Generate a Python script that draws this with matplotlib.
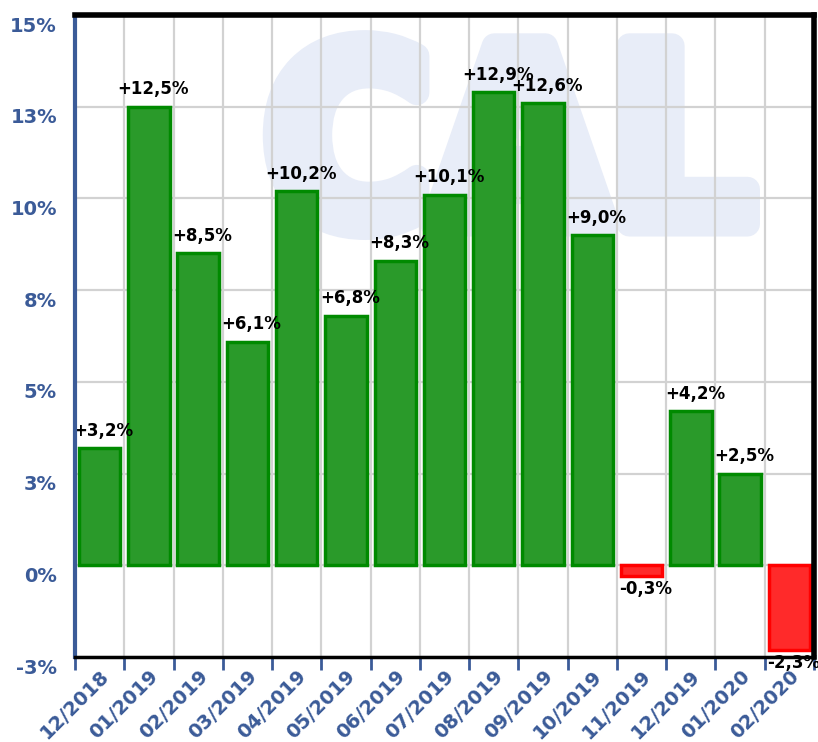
import matplotlib
matplotlib.use("Agg")
import matplotlib.pyplot as plt
import matplotlib.transforms as mtransforms
from matplotlib.textpath import TextPath
from matplotlib.patches import PathPatch
from matplotlib.font_manager import FontProperties

# --- data ---
months = ["12/2018", "01/2019", "02/2019", "03/2019", "04/2019", "05/2019",
          "06/2019", "07/2019", "08/2019", "09/2019", "10/2019", "11/2019",
          "12/2019", "01/2020", "02/2020"]
changes = [3.2, 12.5, 8.5, 6.1, 10.2, 6.8, 8.3, 10.1, 12.9, 12.6, 9.0,
           -0.3, 4.2, 2.5, -2.3]
ytick_values = [-2.5, 0, 2.5, 5, 7.5, 10, 12.5, 15]
ytick_labels = ["-3%", "0%", "3%", "5%", "8%", "10%", "13%", "15%"]

BLUE = "#3b5b98"
GREEN_FILL = "#2a9a2a"
GREEN_EDGE = "#008a00"
RED_FILL = "#ff2a2a"
RED_EDGE = "#ff0000"
WM_COLOR = "#e8edf8"

fig = plt.figure(figsize=(8.18, 7.42), dpi=100)
ax = fig.add_axes([75 / 818, 1 - 657 / 742, 739 / 818, 642 / 742])

n = len(months)
ax.set_xlim(0, n)
ax.set_ylim(-2.5, 15)

# watermark, thickened with a round stroke
fp = FontProperties(family="DejaVu Sans", weight="bold")
tp = TextPath((0, 0), "CAL", prop=fp, size=100)
ext = tp.get_extents()
x0, x1, y0, y1 = 0.271, 0.910, 0.669, 0.957
wm_tr = (mtransforms.Affine2D()
         .translate(-ext.x0, -ext.y0)
         .scale((x1 - x0) / ext.width, (y1 - y0) / ext.height)
         .translate(x0, y0))
ax.add_patch(PathPatch(wm_tr.transform_path(tp), transform=ax.transAxes,
                       facecolor=WM_COLOR, edgecolor=WM_COLOR, linewidth=18,
                       joinstyle="round", zorder=0))

# grid: horizontal at y ticks, vertical at month boundaries
for yv in ytick_values:
    ax.axhline(yv, color="#d2d2d2", lw=1.6, zorder=1)
for i in range(1, n):
    ax.axvline(i, color="#d2d2d2", lw=1.6, zorder=1)

centers = [i + 0.5 for i in range(n)]
fills = [GREEN_FILL if v >= 0 else RED_FILL for v in changes]
edges = [GREEN_EDGE if v >= 0 else RED_EDGE for v in changes]
ax.bar(centers, changes, width=0.84, color=fills, edgecolor=edges,
       linewidth=2.5, zorder=3)

for xc, v in zip(centers, changes):
    txt = ("+" if v >= 0 else "-") + f"{abs(v):.1f}".replace(".", ",") + "%"
    if v >= 0:
        ax.annotate(txt, (xc, v), xytext=(3, 6), textcoords="offset points",
                    ha="center", va="bottom", fontsize=12,
                    fontweight="bold", color="black", zorder=5)
    else:
        ax.annotate(txt, (xc, v), xytext=(3, -3), textcoords="offset points",
                    ha="center", va="top", fontsize=12,
                    fontweight="bold", color="black", zorder=5)

# y axis
ax.set_yticks(ytick_values)
ax.set_yticklabels(ytick_labels, fontsize=14, fontweight="bold", color=BLUE)
ax.tick_params(axis="y", length=0, pad=13)
shift = mtransforms.ScaledTranslation(0, -9 / 100, fig.dpi_scale_trans)
for lab in ax.get_yticklabels():
    lab.set_transform(lab.get_transform() + shift)

# x axis: tick marks on boundaries, labels at month centres
ax.set_xticks(range(n + 1))
ax.set_xticklabels([])
ax.tick_params(axis="x", which="major", length=9, width=2, color=BLUE)
ax.set_xticks(centers, minor=True)
ax.set_xticklabels(months, minor=True, rotation=45, ha="right", va="top",
                   rotation_mode="anchor", fontsize=14, fontweight="bold",
                   color=BLUE)
ax.tick_params(axis="x", which="minor", length=0, pad=7)

ax.spines["left"].set_color(BLUE)
ax.spines["left"].set_linewidth(3)
ax.spines["top"].set_color("black")
ax.spines["top"].set_linewidth(4)
ax.spines["right"].set_color("black")
ax.spines["right"].set_linewidth(4)
ax.spines["bottom"].set_color("black")
ax.spines["bottom"].set_linewidth(2.5)
for s in ax.spines.values():
    s.set_zorder(6)

fig.savefig("out.png", dpi=100)
